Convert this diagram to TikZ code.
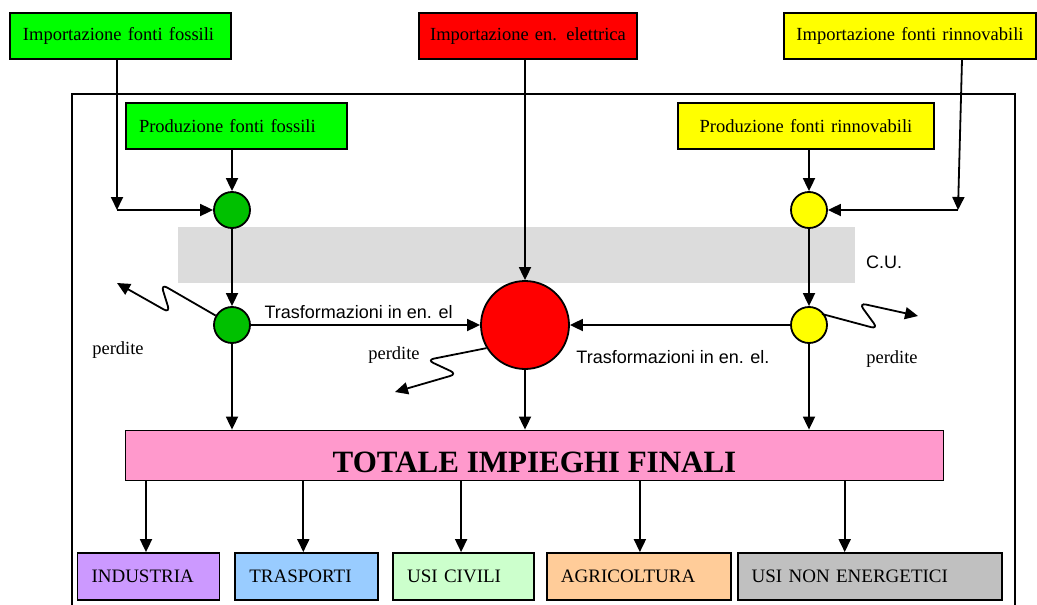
\documentclass[tikz,border=0pt]{standalone}
\usepackage{fontspec}
\setmainfont{Liberation Serif}
\setsansfont{Liberation Sans}
\usetikzlibrary{arrows.meta, positioning, calc}
\definecolor{verde}{HTML}{00FF00}
\definecolor{verdescuro}{HTML}{00C000}
\definecolor{rosso}{HTML}{FF0000}
\definecolor{giallo}{HTML}{FFFF00}
\definecolor{rosa}{HTML}{FF99CC}
\definecolor{lilla}{HTML}{CC99FF}
\definecolor{azzurro}{HTML}{99CCFF}
\definecolor{verdino}{HTML}{CCFFCC}
\definecolor{arancio}{HTML}{FFCC99}
\definecolor{grigio}{HTML}{C0C0C0}
\definecolor{fascia}{HTML}{DCDCDC}
\tikzset{
  fonte/.style={rectangle, draw=black, line width=1.8pt, minimum height=46pt,
                inner xsep=4pt, inner ysep=0pt, font=\fontsize{18.5}{22}\selectfont},
  uso/.style={rectangle, draw=black, line width=1.8pt, minimum height=47pt,
              inner xsep=14pt, inner ysep=0pt, align=left, font=\fontsize{19}{22}\selectfont},
  nodo/.style={circle, draw=black, line width=1.8pt, minimum size=36pt, inner sep=0pt},
  fl/.style={-{Triangle[length=13pt,width=12pt]}, line width=1.8pt},
  onda/.style={fl, rounded corners=7pt},
  lbl/.style={font=\fontsize{18.5}{22}\selectfont, inner sep=0pt},
  tlbl/.style={font=\sffamily\fontsize{18}{22}\selectfont, inner sep=0pt, anchor=base}
}
\begin{document}
\begin{tikzpicture}[x=1pt, y=-1pt]
\useasboundingbox (0,0) rectangle (1037,605);
% fascia consumi e cornice
\fill[fascia] (178,227) rectangle (855,283);
\node[tlbl, anchor=base west] (cu) at (866,268) {C.U.};
\draw[line width=1.8pt] (72,605) -- (72,94) -- (1015,94) -- (1015,605);
% fonti
\node[fonte, fill=verde, text width=213pt, align=left] (impF) at (120.5,36) {\hspace*{9pt}Importazione fonti fossili};
\node[fonte, fill=rosso, text width=210pt, align=center] (impE) at (528,36) {Importazione en. elettrica};
\node[fonte, fill=giallo, text width=244pt, align=center] (impR) at (910,36) {Importazione fonti rinnovabili};
\node[fonte, fill=verde, text width=213pt, align=left] (prodF) at (236.5,126) {\hspace*{9pt}Produzione fonti fossili};
\node[fonte, fill=giallo, text width=248pt, align=center] (prodR) at (806,126) {Produzione fonti rinnovabili};
% nodi
\node[nodo, fill=verdescuro] (gF1) at (232,210) {};
\node[nodo, fill=verdescuro] (gF2) at (232,325) {};
\node[nodo, fill=giallo] (yR1) at (809,210) {};
\node[nodo, fill=giallo] (yR2) at (809,325) {};
\node[nodo, fill=rosso, minimum size=88pt] (el) at (525,325) {};
% impieghi
\node[rectangle, draw=black, line width=1.8pt, fill=rosa, minimum width=818pt, minimum height=50pt,
      inner ysep=0pt, text height=34pt, text depth=0pt, font=\bfseries\fontsize{31}{34}\selectfont]
      (tot) at (534.5,455.5) {TOTALE IMPIEGHI FINALI};
\node[uso, fill=lilla, text width=114pt] (ind) at (148.5,576.5) {INDUSTRIA};
\node[uso, fill=azzurro, text width=115pt, right=14pt of ind] (tra) {TRASPORTI};
\node[uso, fill=verdino, text width=113pt, right=13pt of tra] (civ) {USI CIVILI};
\node[uso, fill=arancio, text width=156pt, right=11pt of civ] (agr) {AGRICOLTURA};
\node[uso, fill=grigio, text width=236pt, right=5pt of agr] (une) {USI NON ENERGETICI};
% flussi
\coordinate (cF) at (117,210);
\coordinate (cR) at (958,210);
\draw[fl] (impF.south -| cF) -- (cF);
\draw[fl] (cF) -- (gF1.west);
\draw[fl] (prodF.south -| gF1) -- (gF1.north);
\draw[fl] (gF1) -- (gF2.north);
\draw[fl] (gF2.east) -- node[tlbl, above=5pt, pos=0.47]{Trasformazioni in en. el} (el.west);
\draw[fl] ([xshift=52pt]impR.south) -- (cR);
\draw[fl] (cR) -- (yR1.east);
\draw[fl] (prodR.south -| yR1) -- (yR1.north);
\draw[fl] (yR1) -- (yR2.north);
\draw[fl] (yR2.west) -- (el.east);
\node[tlbl] (tr2) at (673,363) {Trasformazioni in en. el.};
\draw[fl] (impE.south -| el) -- (el.north);
\draw[fl] (gF2.south) -- (gF2 |- tot.north);
\draw[fl] (el.south) -- (el |- tot.north);
\draw[fl] (yR2.south) -- (yR2 |- tot.north);
\draw[fl] ([xshift=-2.5pt]ind.north |- tot.south) -- ([xshift=-2.5pt]ind.north);
\draw[fl] ([xshift=-3.5pt]tra.north |- tot.south) -- ([xshift=-3.5pt]tra.north);
\draw[fl] ([xshift=-2.5pt]civ.north |- tot.south) -- ([xshift=-2.5pt]civ.north);
\draw[fl] ([xshift=1pt]agr.north |- tot.south) -- ([xshift=1pt]agr.north);
\draw[fl] ([xshift=-25pt]une.north |- tot.south) -- ([xshift=-25pt]une.north);
% perdite
\coordinate (pF) at (117,283);
\coordinate (pE) at (395,392);
\coordinate (pR) at (918,316);
\draw[onda] (gF2.150) -- (161,284) -- (170,313) -- (pF);
\draw[onda] (el.211) -- (427,360) -- (457,374) -- (pE);
\draw[onda] ($(yR2)+(13,-11)$) -- (878,329) -- (859,303) -- (pR);
\node[lbl] (lF) at (118,350) {perdite};
\node[lbl] (lE) at (394,355) {perdite};
\node[lbl] (lR) at (892,359) {perdite};
\end{tikzpicture}
\end{document}
